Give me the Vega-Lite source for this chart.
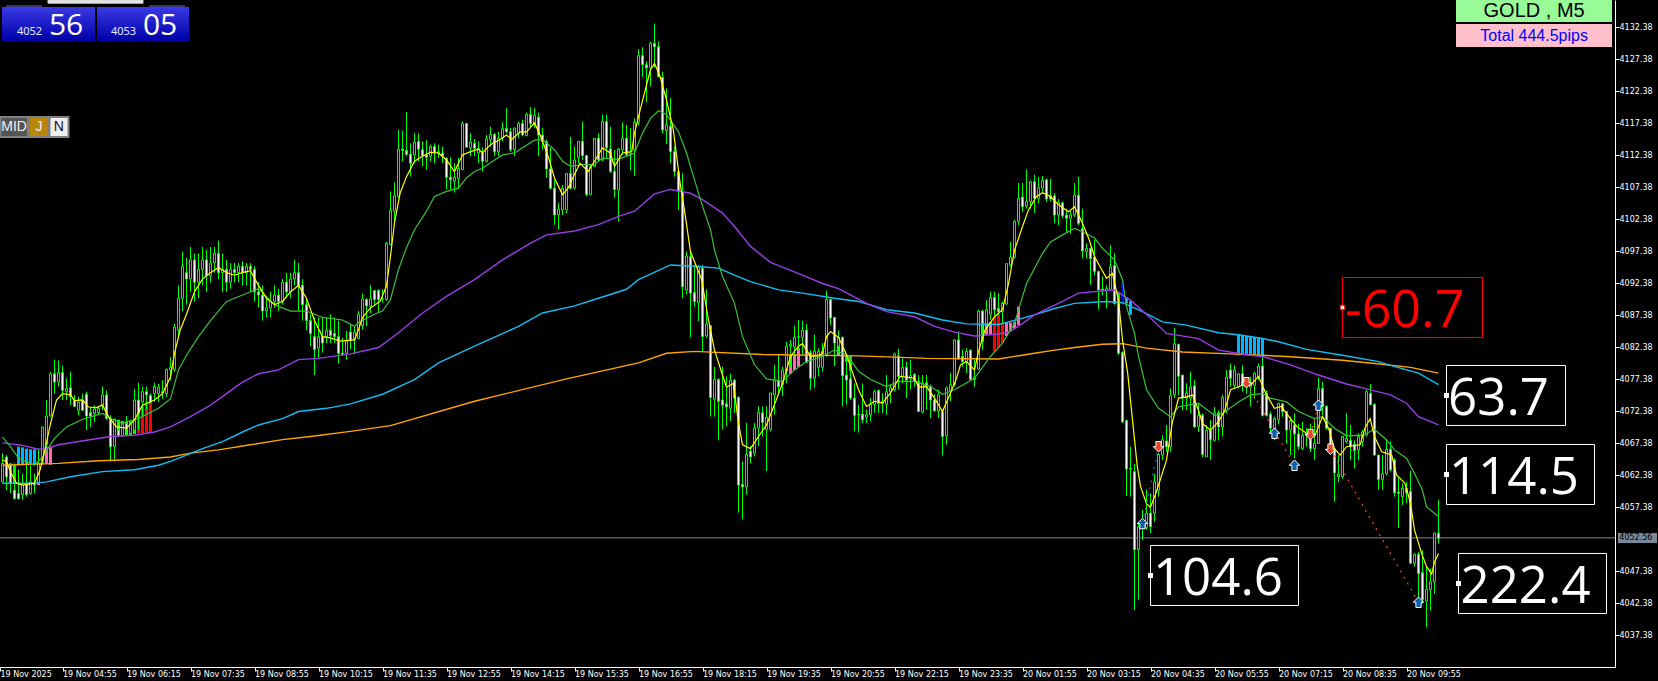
{"$schema":"https://vega.github.io/schema/vega-lite/v6.json","width":1615,"height":667,"autosize":{"type":"none"},"padding":{"left":0,"top":0,"right":43,"bottom":14},"background":"#000000","config":{"view":{"stroke":null},"axis":{"grid":false,"title":null}},"resolve":{"axis":{"x":"independent","y":"independent"}},
"datasets":{
"candles":[
{"i":0,"o":4061.3,"h":4065.8,"l":4061.1,"c":4064.2},{"i":1,"o":4065.2,"h":4065.5,"l":4060,"c":4062.1},{"i":2,"o":4063.9,"h":4064.2,"l":4059.5,"c":4061.1},{"i":3,"o":4060,"h":4064.2,"l":4058.5,"c":4058.7},{"i":4,"o":4059.5,"h":4063.2,"l":4058.5,"c":4058.7},{"i":5,"o":4059.3,"h":4062.6,"l":4058.5,"c":4061.1},{"i":6,"o":4061.1,"h":4064.5,"l":4059,"c":4059.3},{"i":7,"o":4059.5,"h":4063.9,"l":4059.3,"c":4061.3},{"i":8,"o":4061.1,"h":4062.6,"l":4059.5,"c":4060.8},{"i":9,"o":4061.1,"h":4066.5,"l":4061.1,"c":4064.2},
{"i":10,"o":4064.7,"h":4069.9,"l":4064.2,"c":4069.9},{"i":11,"o":4067.1,"h":4074.1,"l":4066.3,"c":4071.6},{"i":12,"o":4071.6,"h":4078.5,"l":4071.5,"c":4078.2},{"i":13,"o":4078.2,"h":4080.4,"l":4075.1,"c":4076.9},{"i":14,"o":4076.9,"h":4080.3,"l":4076.2,"c":4078.4},{"i":15,"o":4078.4,"h":4079.5,"l":4074.1,"c":4075.6},{"i":16,"o":4075.4,"h":4077.5,"l":4074.1,"c":4075.9},{"i":17,"o":4076,"h":4078.5,"l":4073.3,"c":4074.6},{"i":18,"o":4074,"h":4074.9,"l":4073,"c":4073.1},{"i":19,"o":4072.5,"h":4074.6,"l":4071.7,"c":4073.8},
{"i":20,"o":4074.1,"h":4075.1,"l":4072.5,"c":4072.5},{"i":21,"o":4075,"h":4075.4,"l":4069.4,"c":4071.6},{"i":22,"o":4072.1,"h":4073,"l":4069.9,"c":4071.6},{"i":23,"o":4072,"h":4073.3,"l":4070.7,"c":4072.7},{"i":24,"o":4072.1,"h":4073.1,"l":4071.9,"c":4072.8},{"i":25,"o":4073.3,"h":4076.2,"l":4072.5,"c":4074.9},{"i":26,"o":4074.9,"h":4075.6,"l":4071,"c":4071.2},{"i":27,"o":4071.2,"h":4071.7,"l":4064.5,"c":4066.8},{"i":28,"o":4066.8,"h":4071.2,"l":4064.5,"c":4071.1},{"i":29,"o":4069.4,"h":4071,"l":4068.4,"c":4068.5},
{"i":30,"o":4068.5,"h":4070.7,"l":4068.4,"c":4070.4},{"i":31,"o":4070.4,"h":4071.6,"l":4068.5,"c":4069.4},{"i":32,"o":4068.9,"h":4071,"l":4068.5,"c":4070.4},{"i":33,"o":4069.4,"h":4075.8,"l":4068.9,"c":4074.1},{"i":34,"o":4074.1,"h":4076.8,"l":4069.4,"c":4072},{"i":35,"o":4073.8,"h":4076.2,"l":4071.4,"c":4075.4},{"i":36,"o":4075.4,"h":4076.2,"l":4072.5,"c":4074.9},{"i":37,"o":4074.8,"h":4075.1,"l":4073.6,"c":4073.8},{"i":38,"o":4075.1,"h":4076.8,"l":4073.8,"c":4076.2},{"i":39,"o":4075.1,"h":4076.6,"l":4073.8,"c":4076.1},
{"i":40,"o":4075.2,"h":4077.2,"l":4074.3,"c":4075.4},{"i":41,"o":4075.1,"h":4079,"l":4074.6,"c":4078.9},{"i":42,"o":4078.8,"h":4080.8,"l":4077.2,"c":4079.2},{"i":43,"o":4078.9,"h":4086,"l":4078.5,"c":4085.5},{"i":44,"o":4085,"h":4092,"l":4084,"c":4090},{"i":45,"o":4090,"h":4097.3,"l":4088,"c":4095},{"i":46,"o":4094,"h":4096.3,"l":4089,"c":4093},{"i":47,"o":4093,"h":4098,"l":4091,"c":4096},{"i":48,"o":4096,"h":4097,"l":4089.5,"c":4092.5},{"i":49,"o":4092.5,"h":4097,"l":4090,"c":4094.5},
{"i":50,"o":4094.5,"h":4098,"l":4092,"c":4096},{"i":51,"o":4096,"h":4097.5,"l":4091,"c":4093.5},{"i":52,"o":4093.5,"h":4098,"l":4092.5,"c":4095.5},{"i":53,"o":4095.5,"h":4098,"l":4094,"c":4097},{"i":54,"o":4097,"h":4099,"l":4093,"c":4094},{"i":55,"o":4094,"h":4097,"l":4091,"c":4094.5},{"i":56,"o":4094.5,"h":4096,"l":4091,"c":4092.5},{"i":57,"o":4092.5,"h":4095.5,"l":4091.5,"c":4094.5},{"i":58,"o":4094.5,"h":4095.5,"l":4092.5,"c":4094},{"i":59,"o":4094,"h":4095.5,"l":4092.5,"c":4095},
{"i":60,"o":4095,"h":4095.8,"l":4092,"c":4094},{"i":61,"o":4094,"h":4095.5,"l":4092,"c":4095},{"i":62,"o":4095,"h":4095.5,"l":4091,"c":4094.5},{"i":63,"o":4094.5,"h":4095,"l":4089.5,"c":4091},{"i":64,"o":4091,"h":4092.5,"l":4088.5,"c":4090.5},{"i":65,"o":4090.5,"h":4092,"l":4086.5,"c":4088},{"i":66,"o":4088,"h":4090,"l":4087,"c":4088.5},{"i":67,"o":4088.5,"h":4091,"l":4087,"c":4089.5},{"i":68,"o":4089.5,"h":4092,"l":4088.5,"c":4090.5},{"i":69,"o":4090.5,"h":4091.5,"l":4088,"c":4089.5},
{"i":70,"o":4089.5,"h":4093,"l":4089,"c":4092.5},{"i":71,"o":4092.5,"h":4094,"l":4090,"c":4091},{"i":72,"o":4091,"h":4094,"l":4090,"c":4093},{"i":73,"o":4093,"h":4096,"l":4092,"c":4094},{"i":74,"o":4094,"h":4095.5,"l":4088,"c":4092},{"i":75,"o":4092,"h":4093,"l":4086.5,"c":4089},{"i":76,"o":4089,"h":4090,"l":4085,"c":4086.5},{"i":77,"o":4086.5,"h":4087.5,"l":4082.5,"c":4084.5},{"i":78,"o":4084,"h":4087,"l":4078,"c":4082},{"i":79,"o":4082.2,"h":4087,"l":4080.5,"c":4084},
{"i":80,"o":4084,"h":4087,"l":4081.5,"c":4083},{"i":81,"o":4084,"h":4087,"l":4083,"c":4085},{"i":82,"o":4085,"h":4087.5,"l":4083,"c":4084.2},{"i":83,"o":4084.5,"h":4087,"l":4083,"c":4084},{"i":84,"o":4084,"h":4086.5,"l":4079.8,"c":4081.4},{"i":85,"o":4081.4,"h":4083.8,"l":4081,"c":4081.2},{"i":86,"o":4081.4,"h":4084.9,"l":4080.4,"c":4083.3},{"i":87,"o":4084.7,"h":4086,"l":4082,"c":4083.4},{"i":88,"o":4083.5,"h":4085.6,"l":4081.2,"c":4084.7},{"i":89,"o":4083.7,"h":4088,"l":4083.6,"c":4087.5},
{"i":90,"o":4085.7,"h":4090.7,"l":4085.1,"c":4089.9},{"i":91,"o":4089.8,"h":4090,"l":4085.6,"c":4088.8},{"i":92,"o":4088.7,"h":4092,"l":4087.7,"c":4089.9},{"i":93,"o":4091.2,"h":4091.2,"l":4088.8,"c":4089.8},{"i":94,"o":4091.2,"h":4091.4,"l":4087.7,"c":4089.8},{"i":95,"o":4089.9,"h":4091.4,"l":4089.3,"c":4089.9},{"i":96,"o":4089.8,"h":4098.8,"l":4089.6,"c":4098.6},{"i":97,"o":4098.4,"h":4106.7,"l":4098.3,"c":4103.7},{"i":98,"o":4103.6,"h":4108.1,"l":4102,"c":4106},{"i":99,"o":4105.9,"h":4116.3,"l":4105.7,"c":4113.3},
{"i":100,"o":4113.3,"h":4116.2,"l":4111.4,"c":4113.1},{"i":101,"o":4113.1,"h":4119.1,"l":4112.2,"c":4112.5},{"i":102,"o":4112.5,"h":4114.2,"l":4109,"c":4111.1},{"i":103,"o":4112.4,"h":4115.8,"l":4111.1,"c":4114.4},{"i":104,"o":4114.5,"h":4115.8,"l":4111.4,"c":4113.3},{"i":105,"o":4113.2,"h":4114.5,"l":4110.6,"c":4112.3},{"i":106,"o":4112.4,"h":4114.7,"l":4110.1,"c":4112},{"i":107,"o":4112.2,"h":4114,"l":4111.4,"c":4113.7},{"i":108,"o":4113.7,"h":4114.2,"l":4111.1,"c":4112.7},{"i":109,"o":4112.7,"h":4114,"l":4111.9,"c":4112.9},
{"i":110,"o":4112.7,"h":4113.7,"l":4111.1,"c":4112.2},{"i":111,"o":4111.9,"h":4112,"l":4107,"c":4108.9},{"i":112,"o":4108.9,"h":4112,"l":4107,"c":4108.5},{"i":113,"o":4108.3,"h":4111.1,"l":4106.5,"c":4108.9},{"i":114,"o":4108.7,"h":4111.9,"l":4107.2,"c":4110.3},{"i":115,"o":4110.1,"h":4117.6,"l":4110,"c":4117.3},{"i":116,"o":4117.3,"h":4117.4,"l":4113.5,"c":4113.6},{"i":117,"o":4113.5,"h":4115.8,"l":4112.2,"c":4114.4},{"i":118,"o":4114.2,"h":4114.9,"l":4112.2,"c":4113.4},{"i":119,"o":4112.7,"h":4114.5,"l":4111.1,"c":4113.4},
{"i":120,"o":4112.9,"h":4113.6,"l":4109.8,"c":4111.4},{"i":121,"o":4111.4,"h":4115.5,"l":4111.2,"c":4114.9},{"i":122,"o":4114.8,"h":4116.8,"l":4113.7,"c":4115.6},{"i":123,"o":4115.6,"h":4115.8,"l":4112.2,"c":4112.9},{"i":124,"o":4112.9,"h":4116,"l":4112.2,"c":4115},{"i":125,"o":4115,"h":4117.5,"l":4114.5,"c":4116.5},{"i":126,"o":4116.5,"h":4119.7,"l":4115.8,"c":4116},{"i":127,"o":4116,"h":4116.6,"l":4112.9,"c":4113.2},{"i":128,"o":4113.2,"h":4116.6,"l":4112.2,"c":4116.6},{"i":129,"o":4115.8,"h":4117.6,"l":4115,"c":4117.3},
{"i":130,"o":4117.3,"h":4117.9,"l":4115.3,"c":4115.5},{"i":131,"o":4115.4,"h":4119,"l":4115.3,"c":4118.7},{"i":132,"o":4118.7,"h":4119.9,"l":4116.8,"c":4117.3},{"i":133,"o":4117.1,"h":4119.7,"l":4116.6,"c":4118.6},{"i":134,"o":4118.3,"h":4119,"l":4112.2,"c":4115.5},{"i":135,"o":4115.5,"h":4116.6,"l":4113.2,"c":4114.5},{"i":136,"o":4114.5,"h":4114.8,"l":4108.8,"c":4110.2},{"i":137,"o":4110.2,"h":4113.5,"l":4107,"c":4107.2},{"i":138,"o":4107.2,"h":4108.5,"l":4101.5,"c":4103},{"i":139,"o":4103,"h":4104.9,"l":4100.7,"c":4103.9},
{"i":140,"o":4103.8,"h":4107.7,"l":4103,"c":4107.2},{"i":141,"o":4103.8,"h":4109.5,"l":4103.3,"c":4109.5},{"i":142,"o":4109.5,"h":4115.2,"l":4107,"c":4107.2},{"i":143,"o":4107.2,"h":4113.7,"l":4107,"c":4111.6},{"i":144,"o":4112,"h":4114.5,"l":4111.1,"c":4114.5},{"i":145,"o":4114.5,"h":4117.6,"l":4111.6,"c":4112.3},{"i":146,"o":4112.3,"h":4112.4,"l":4105.9,"c":4106.2},{"i":147,"o":4106.2,"h":4110.9,"l":4106.2,"c":4110.6},{"i":148,"o":4110.6,"h":4115,"l":4110.6,"c":4115},{"i":149,"o":4115,"h":4115.8,"l":4111.4,"c":4111.6},
{"i":150,"o":4111.6,"h":4118.7,"l":4111.4,"c":4117.6},{"i":151,"o":4117.6,"h":4118.7,"l":4111.9,"c":4113.5},{"i":152,"o":4113.3,"h":4116.8,"l":4109.6,"c":4109.8},{"i":153,"o":4109.8,"h":4113.2,"l":4105.7,"c":4107},{"i":154,"o":4106.9,"h":4113.5,"l":4102,"c":4113.3},{"i":155,"o":4113.2,"h":4117.5,"l":4112.4,"c":4115},{"i":156,"o":4115,"h":4117.1,"l":4112.2,"c":4112.4},{"i":157,"o":4112.4,"h":4116.6,"l":4110,"c":4112.6},{"i":158,"o":4113.2,"h":4118.1,"l":4109.1,"c":4117.5},{"i":159,"o":4117.5,"h":4128.9,"l":4117,"c":4127.9},
{"i":160,"o":4127.9,"h":4129.2,"l":4124.6,"c":4126.5},{"i":161,"o":4126.5,"h":4127,"l":4120.6,"c":4126},{"i":162,"o":4126,"h":4130.1,"l":4123.1,"c":4129.8},{"i":163,"o":4129.8,"h":4132.9,"l":4126,"c":4129.3},{"i":164,"o":4129.3,"h":4130.1,"l":4124.6,"c":4124.6},{"i":165,"o":4124.5,"h":4125.4,"l":4115.8,"c":4116.3},{"i":166,"o":4116.2,"h":4122.8,"l":4114.1,"c":4117.1},{"i":167,"o":4116.9,"h":4121.3,"l":4111.1,"c":4112.9},{"i":168,"o":4112.9,"h":4113.7,"l":4109,"c":4109.8},{"i":169,"o":4109.8,"h":4110.1,"l":4103.8,"c":4106.7},
{"i":170,"o":4106.7,"h":4109.5,"l":4090,"c":4091.8},{"i":171,"o":4091.3,"h":4097.3,"l":4090.6,"c":4096.6},{"i":172,"o":4096.5,"h":4097.5,"l":4083.9,"c":4090.8},{"i":173,"o":4090.9,"h":4095.2,"l":4088.7,"c":4089.5},{"i":174,"o":4089.3,"h":4095.2,"l":4086.4,"c":4094.9},{"i":175,"o":4094.7,"h":4095.2,"l":4081.7,"c":4084},{"i":176,"o":4084.1,"h":4091.4,"l":4083.8,"c":4086},{"i":177,"o":4085.7,"h":4085.8,"l":4071.5,"c":4074.5},{"i":178,"o":4074.2,"h":4079.3,"l":4071.5,"c":4077.3},{"i":179,"o":4077.3,"h":4077.5,"l":4067.8,"c":4073.9},
{"i":180,"o":4074.1,"h":4079.3,"l":4069.5,"c":4073.3},{"i":181,"o":4073.5,"h":4077.8,"l":4070,"c":4073},{"i":182,"o":4072.8,"h":4078.2,"l":4070.8,"c":4077.2},{"i":183,"o":4077.2,"h":4077.4,"l":4072.1,"c":4074.4},{"i":184,"o":4074.5,"h":4074.7,"l":4056.5,"c":4060.8},{"i":185,"o":4060.9,"h":4064.5,"l":4055.4,"c":4060.5},{"i":186,"o":4060.5,"h":4070.5,"l":4059.3,"c":4065.6},{"i":187,"o":4066.1,"h":4066.9,"l":4064.2,"c":4065.2},{"i":188,"o":4065.8,"h":4070.5,"l":4065.3,"c":4069.7},{"i":189,"o":4069.7,"h":4073.1,"l":4066.9,"c":4072.2},
{"i":190,"o":4072.1,"h":4073.1,"l":4068.4,"c":4070.6},{"i":191,"o":4069.5,"h":4073.1,"l":4063,"c":4071.4},{"i":192,"o":4069.5,"h":4075.2,"l":4069.2,"c":4075.2},{"i":193,"o":4074.9,"h":4079.6,"l":4071.8,"c":4077.2},{"i":194,"o":4077.1,"h":4081.2,"l":4075.2,"c":4076.2},{"i":195,"o":4076.5,"h":4079.3,"l":4074.7,"c":4078.8},{"i":196,"o":4078.6,"h":4083.2,"l":4076.7,"c":4082.5},{"i":197,"o":4082.5,"h":4083.5,"l":4079.3,"c":4082.8},{"i":198,"o":4082.4,"h":4085.7,"l":4080.9,"c":4083.9},{"i":199,"o":4083.9,"h":4086.6,"l":4082,"c":4084},
{"i":200,"o":4083.9,"h":4086.5,"l":4081.2,"c":4085},{"i":201,"o":4085,"h":4086,"l":4080,"c":4080},{"i":202,"o":4081.5,"h":4081.9,"l":4075.7,"c":4077.5},{"i":203,"o":4077.5,"h":4084.3,"l":4076,"c":4081.7},{"i":204,"o":4079.2,"h":4082.2,"l":4077.8,"c":4081.7},{"i":205,"o":4079.2,"h":4083,"l":4078.5,"c":4081.7},{"i":206,"o":4081,"h":4091.2,"l":4080.9,"c":4089.8},{"i":207,"o":4089.8,"h":4090,"l":4085.8,"c":4086.9},{"i":208,"o":4087,"h":4087.1,"l":4079.4,"c":4083},{"i":209,"o":4082.5,"h":4085,"l":4081.4,"c":4083.9},
{"i":210,"o":4083.9,"h":4084,"l":4073.1,"c":4077.9},{"i":211,"o":4078,"h":4081,"l":4073.4,"c":4077.2},{"i":212,"o":4077.4,"h":4080.9,"l":4074.1,"c":4074.4},{"i":213,"o":4074.4,"h":4076.7,"l":4069.2,"c":4071.7},{"i":214,"o":4071.8,"h":4073.3,"l":4069,"c":4071.9},{"i":215,"o":4071.9,"h":4076.7,"l":4070.5,"c":4071},{"i":216,"o":4071.4,"h":4072.6,"l":4070.5,"c":4071.8},{"i":217,"o":4071.8,"h":4074.4,"l":4070.8,"c":4073.4},{"i":218,"o":4073.4,"h":4075.7,"l":4072.1,"c":4075.4},{"i":219,"o":4075.6,"h":4075.7,"l":4072.1,"c":4073.6},
{"i":220,"o":4073.6,"h":4075.2,"l":4072.1,"c":4073.9},{"i":221,"o":4073.4,"h":4078,"l":4071.8,"c":4075.4},{"i":222,"o":4075.4,"h":4076.5,"l":4073.6,"c":4076},{"i":223,"o":4075.7,"h":4081.5,"l":4075.4,"c":4081.3},{"i":224,"o":4081,"h":4082.1,"l":4075.7,"c":4077.8},{"i":225,"o":4077.8,"h":4080.6,"l":4076.7,"c":4079.2},{"i":226,"o":4079.2,"h":4080.1,"l":4074.4,"c":4077.2},{"i":227,"o":4077.5,"h":4080.4,"l":4075.7,"c":4077.9},{"i":228,"o":4078.1,"h":4078.3,"l":4076.2,"c":4077},{"i":229,"o":4077,"h":4078,"l":4072.3,"c":4072.3},
{"i":230,"o":4072.2,"h":4078,"l":4072,"c":4076.8},{"i":231,"o":4076.8,"h":4078,"l":4072.6,"c":4076.2},{"i":232,"o":4076.2,"h":4076.5,"l":4071.3,"c":4074.1},{"i":233,"o":4074.1,"h":4075,"l":4072.3,"c":4072.4},{"i":234,"o":4072.4,"h":4075.7,"l":4071.3,"c":4074.9},{"i":235,"o":4072.3,"h":4072.6,"l":4065.4,"c":4068.4},{"i":236,"o":4068.5,"h":4076.2,"l":4067.1,"c":4076},{"i":237,"o":4075.4,"h":4078.3,"l":4073.9,"c":4076.5},{"i":238,"o":4076.5,"h":4083.6,"l":4076.2,"c":4083.5},{"i":239,"o":4083.5,"h":4084.8,"l":4080.4,"c":4080.5},
{"i":240,"o":4080.9,"h":4082,"l":4079.3,"c":4080.1},{"i":241,"o":4080.1,"h":4082.2,"l":4078.3,"c":4081.7},{"i":242,"o":4081.9,"h":4081.9,"l":4077.2,"c":4077.3},{"i":243,"o":4077.3,"h":4080.4,"l":4076.2,"c":4077.7},{"i":244,"o":4078.9,"h":4088.2,"l":4078.8,"c":4088},{"i":245,"o":4088,"h":4088.2,"l":4081.9,"c":4086},{"i":246,"o":4086,"h":4089.7,"l":4085.6,"c":4088.2},{"i":247,"o":4087.5,"h":4091,"l":4086.6,"c":4090.1},{"i":248,"o":4090.1,"h":4091,"l":4087.1,"c":4088.2},{"i":249,"o":4088.4,"h":4090.8,"l":4087.4,"c":4087.9},
{"i":250,"o":4087.9,"h":4089.5,"l":4086.1,"c":4089.2},{"i":251,"o":4089.1,"h":4095.5,"l":4089,"c":4095.4},{"i":252,"o":4095.2,"h":4098.8,"l":4094.9,"c":4096.4},{"i":253,"o":4096.4,"h":4102.2,"l":4096.2,"c":4102},{"i":254,"o":4102,"h":4108,"l":4101.4,"c":4105.6},{"i":255,"o":4105.8,"h":4108,"l":4103.5,"c":4104.3},{"i":256,"o":4104.4,"h":4110.1,"l":4104,"c":4105.1},{"i":257,"o":4105.1,"h":4108.4,"l":4104,"c":4108.2},{"i":258,"o":4108.2,"h":4109.3,"l":4103.3,"c":4105.6},{"i":259,"o":4105.6,"h":4109,"l":4104.8,"c":4107.3},
{"i":260,"o":4107.2,"h":4109.1,"l":4106.4,"c":4108.4},{"i":261,"o":4108.5,"h":4108.7,"l":4105.1,"c":4105.5},{"i":262,"o":4106,"h":4108.7,"l":4105.1,"c":4105.5},{"i":263,"o":4106,"h":4106.4,"l":4101.7,"c":4103},{"i":264,"o":4103,"h":4105.5,"l":4101.4,"c":4105},{"i":265,"o":4104.9,"h":4105.1,"l":4102.5,"c":4102.9},{"i":266,"o":4103,"h":4104,"l":4100.2,"c":4102.5},{"i":267,"o":4102.5,"h":4103.8,"l":4100.1,"c":4103},{"i":268,"o":4103,"h":4108,"l":4102.7,"c":4106.1},{"i":269,"o":4106.1,"h":4109,"l":4101.4,"c":4101.7},
{"i":270,"o":4100.9,"h":4104,"l":4096.2,"c":4097.4},{"i":271,"o":4097.3,"h":4098.6,"l":4096.2,"c":4097.8},{"i":272,"o":4097.8,"h":4097.9,"l":4092.1,"c":4096.2},{"i":273,"o":4096.4,"h":4099.1,"l":4093.6,"c":4094.2},{"i":274,"o":4094.2,"h":4094.2,"l":4088.2,"c":4091.3},{"i":275,"o":4091.4,"h":4093.4,"l":4090.5,"c":4091.2},{"i":276,"o":4091.2,"h":4092,"l":4088.4,"c":4091.5},{"i":277,"o":4091.4,"h":4098.3,"l":4091.3,"c":4094.9},{"i":278,"o":4095.1,"h":4097,"l":4089,"c":4089.2},{"i":279,"o":4089.2,"h":4091,"l":4081.1,"c":4081.4},
{"i":280,"o":4081.5,"h":4081.7,"l":4070.5,"c":4070.7},{"i":281,"o":4070.9,"h":4071,"l":4059.1,"c":4063.3},{"i":282,"o":4063.4,"h":4066.8,"l":4059,"c":4063.3},{"i":283,"o":4062.9,"h":4064.1,"l":4041.3,"c":4050.7},{"i":284,"o":4050.7,"h":4055,"l":4042.9,"c":4054.3},{"i":285,"o":4054.5,"h":4056.9,"l":4052.2,"c":4054.8},{"i":286,"o":4054.2,"h":4060.1,"l":4053.8,"c":4056.4},{"i":287,"o":4056.4,"h":4059.5,"l":4053.3,"c":4054.3},{"i":288,"o":4056.4,"h":4062.6,"l":4055.1,"c":4061.3},{"i":289,"o":4060,"h":4065.8,"l":4059,"c":4065.6},
{"i":290,"o":4065.5,"h":4068.6,"l":4064.7,"c":4067.9},{"i":291,"o":4067.7,"h":4070.2,"l":4066,"c":4066.8},{"i":292,"o":4066.8,"h":4075.9,"l":4066,"c":4074.8},{"i":293,"o":4074.9,"h":4085.4,"l":4074.4,"c":4082.9},{"i":294,"o":4082.8,"h":4082.9,"l":4074.9,"c":4077.8},{"i":295,"o":4078,"h":4078,"l":4072.5,"c":4074.4},{"i":296,"o":4074.4,"h":4076.7,"l":4072.5,"c":4075.2},{"i":297,"o":4074.4,"h":4078.5,"l":4072,"c":4076.1},{"i":298,"o":4076.3,"h":4077.2,"l":4069.7,"c":4069.9},{"i":299,"o":4069.9,"h":4073.6,"l":4069.1,"c":4071.7},
{"i":300,"o":4071.7,"h":4072,"l":4065.2,"c":4065.6},{"i":301,"o":4065.2,"h":4070.2,"l":4065.2,"c":4069.4},{"i":302,"o":4069.4,"h":4071,"l":4064.7,"c":4067.9},{"i":303,"o":4067.8,"h":4073,"l":4067.6,"c":4072.1},{"i":304,"o":4072.1,"h":4072.5,"l":4067.8,"c":4069.9},{"i":305,"o":4069.9,"h":4074.9,"l":4068.4,"c":4074.5},{"i":306,"o":4072.5,"h":4078.8,"l":4072,"c":4077.7},{"i":307,"o":4078.8,"h":4079.8,"l":4076.2,"c":4077.5},{"i":308,"o":4076.4,"h":4079.5,"l":4075.9,"c":4078.8},{"i":309,"o":4076.2,"h":4078.3,"l":4075.9,"c":4078.2},
{"i":310,"o":4078.2,"h":4079.5,"l":4075.4,"c":4076.4},{"i":311,"o":4077.2,"h":4077.7,"l":4075.1,"c":4076.2},{"i":312,"o":4076.1,"h":4077.7,"l":4073.1,"c":4076.7},{"i":313,"o":4076.4,"h":4078.5,"l":4074.3,"c":4078.3},{"i":314,"o":4077.7,"h":4079.8,"l":4077.2,"c":4079.4},{"i":315,"o":4079.4,"h":4080.9,"l":4071.5,"c":4071.7},{"i":316,"o":4075.1,"h":4075.6,"l":4071.5,"c":4071.7},{"i":317,"o":4071.9,"h":4072.3,"l":4068.9,"c":4069.7},{"i":318,"o":4069.5,"h":4071.5,"l":4067.8,"c":4071.2},{"i":319,"o":4071,"h":4073.6,"l":4070.3,"c":4073.6},
{"i":320,"o":4073.5,"h":4073.6,"l":4071.5,"c":4072.3},{"i":321,"o":4072.3,"h":4072.3,"l":4067.3,"c":4069.4},{"i":322,"o":4069.4,"h":4071.5,"l":4065.5,"c":4070.9},{"i":323,"o":4070.2,"h":4072,"l":4065,"c":4068.8},{"i":324,"o":4068.8,"h":4070.4,"l":4066.3,"c":4066.8},{"i":325,"o":4066.5,"h":4070.7,"l":4066.3,"c":4068.6},{"i":326,"o":4068.6,"h":4069.7,"l":4066.8,"c":4069.1},{"i":327,"o":4069.1,"h":4070.4,"l":4066,"c":4066.5},{"i":328,"o":4066.5,"h":4071,"l":4064.7,"c":4067.3},{"i":329,"o":4067.3,"h":4077.6,"l":4067.3,"c":4075.9},
{"i":330,"o":4075.9,"h":4076.9,"l":4071.7,"c":4073.1},{"i":331,"o":4073.1,"h":4073.3,"l":4069.4,"c":4069.7},{"i":332,"o":4069.7,"h":4069.7,"l":4065.8,"c":4066.3},{"i":333,"o":4066.3,"h":4066.3,"l":4058.2,"c":4062.7},{"i":334,"o":4062.1,"h":4065.5,"l":4061.3,"c":4062.5},{"i":335,"o":4062.1,"h":4068.4,"l":4061.8,"c":4068.4},{"i":336,"o":4067.6,"h":4072,"l":4067.3,"c":4068.1},{"i":337,"o":4067.8,"h":4070.2,"l":4064.7,"c":4066.8},{"i":338,"o":4067.2,"h":4067.8,"l":4063.4,"c":4066.2},{"i":339,"o":4066.3,"h":4068.9,"l":4064.7,"c":4068.4},
{"i":340,"o":4067.6,"h":4069.4,"l":4066.8,"c":4069.1},{"i":341,"o":4068.6,"h":4075.7,"l":4068.4,"c":4075.4},{"i":342,"o":4075.1,"h":4076.6,"l":4073.3,"c":4073.4},{"i":343,"o":4073.4,"h":4073.6,"l":4065.4,"c":4065.5},{"i":344,"o":4065.5,"h":4065.5,"l":4060.1,"c":4061.7},{"i":345,"o":4061.7,"h":4065.5,"l":4060.1,"c":4062.6},{"i":346,"o":4062.6,"h":4067.9,"l":4062.4,"c":4066.4},{"i":347,"o":4066.4,"h":4067.6,"l":4062.9,"c":4063.2},{"i":348,"o":4064.7,"h":4065,"l":4059,"c":4059.6},{"i":349,"o":4059.7,"h":4061.9,"l":4054.1,"c":4059.5},
{"i":350,"o":4059,"h":4061.1,"l":4057.7,"c":4060.3},{"i":351,"o":4060.3,"h":4061.3,"l":4058,"c":4059.6},{"i":352,"o":4059.8,"h":4063,"l":4048.5,"c":4048.6},{"i":353,"o":4048.6,"h":4050.1,"l":4048.1,"c":4050},{"i":354,"o":4050,"h":4050.4,"l":4042.3,"c":4047},{"i":355,"o":4047.1,"h":4050.6,"l":4042.3,"c":4042.9},{"i":356,"o":4042.7,"h":4048,"l":4038.6,"c":4044.5},{"i":357,"o":4044.5,"h":4047.8,"l":4041.2,"c":4045.7},{"i":358,"o":4045.7,"h":4053.4,"l":4043.8,"c":4053.3},{"i":359,"o":4053.3,"h":4058.5,"l":4051.7,"c":4052.5}],
"orange":[{"i":0,"p":4063.9},{"i":14,"p":4064.2},{"i":24,"p":4064.6},{"i":34,"p":4064.8},{"i":42,"p":4065.2},{"i":47,"p":4065.8},{"i":54,"p":4066.3},{"i":62,"p":4067.1},{"i":70,"p":4067.9},{"i":77,"p":4068.4},{"i":87,"p":4069.2},{"i":97,"p":4070.1},{"i":118,"p":4073.9},{"i":141,"p":4077.4},{"i":159,"p":4079.9},{"i":166,"p":4081.4},{"i":173,"p":4081.7},{"i":190,"p":4081.2},{"i":214,"p":4081},{"i":223,"p":4080.8},{"i":231,"p":4080.6},{"i":249,"p":4080.5},{"i":258,"p":4081.4},{"i":263,"p":4081.9},{"i":268,"p":4082.3},{"i":275,"p":4082.8},{"i":280,"p":4082.9},{"i":286,"p":4082.2},{"i":295,"p":4081.6},{"i":307,"p":4081.3},{"i":321,"p":4080.9},{"i":335,"p":4080.3},{"i":343,"p":4079.8},{"i":352,"p":4079.2},{"i":359,"p":4078.3}],
"cyan":[{"i":0,"p":4061.1},{"i":8,"p":4061.1},{"i":11,"p":4061.3},{"i":17,"p":4062.1},{"i":25,"p":4062.9},{"i":33,"p":4063.2},{"i":39,"p":4063.9},{"i":42,"p":4064.5},{"i":46,"p":4065.5},{"i":50,"p":4066.5},{"i":55,"p":4067.6},{"i":60,"p":4069.1},{"i":64,"p":4070.2},{"i":70,"p":4071.2},{"i":74,"p":4072.3},{"i":81,"p":4072.8},{"i":87,"p":4073.5},{"i":95,"p":4075},{"i":103,"p":4077.3},{"i":109,"p":4079.9},{"i":118,"p":4082.5},{"i":129,"p":4085.6},{"i":135,"p":4087.7},{"i":143,"p":4088.8},{"i":149,"p":4090},{"i":156,"p":4091.4},{"i":159,"p":4092.9},{"i":167,"p":4095.2},{"i":173,"p":4095},{"i":179,"p":4094.7},{"i":183,"p":4093.6},{"i":187,"p":4092.6},{"i":194,"p":4091.3},{"i":200,"p":4090.8},{"i":208,"p":4090},{"i":214,"p":4089.5},{"i":221,"p":4088.2},{"i":228,"p":4087.7},{"i":235,"p":4086.6},{"i":241,"p":4086},{"i":249,"p":4085.9},{"i":254,"p":4086.7},{"i":259,"p":4087.6},{"i":263,"p":4088.4},{"i":268,"p":4089.2},{"i":276,"p":4089.5},{"i":280,"p":4089.3},{"i":285,"p":4087.9},{"i":290,"p":4086.3},{"i":296,"p":4085.8},{"i":304,"p":4084.6},{"i":309,"p":4084.3},{"i":315,"p":4083.7},{"i":319,"p":4083.2},{"i":326,"p":4082},{"i":335,"p":4081.1},{"i":344,"p":4080.1},{"i":347,"p":4079.5},{"i":354,"p":4078.3},{"i":359,"p":4076.5}],
"purple":[{"i":0,"p":4067.4},{"i":5,"p":4067},{"i":9,"p":4066.4},{"i":11,"p":4066.5},{"i":14,"p":4067.1},{"i":21,"p":4067.8},{"i":27,"p":4068.4},{"i":33,"p":4068.6},{"i":38,"p":4069.1},{"i":42,"p":4069.9},{"i":47,"p":4071.5},{"i":52,"p":4073.3},{"i":56,"p":4075.1},{"i":60,"p":4076.9},{"i":64,"p":4078.2},{"i":69,"p":4078.8},{"i":74,"p":4080.4},{"i":79,"p":4080.6},{"i":87,"p":4081.3},{"i":94,"p":4082.3},{"i":99,"p":4084.6},{"i":105,"p":4087.7},{"i":111,"p":4090.3},{"i":118,"p":4092.9},{"i":125,"p":4096},{"i":132,"p":4098.6},{"i":136,"p":4099.9},{"i":143,"p":4100.5},{"i":149,"p":4101.5},{"i":154,"p":4102.8},{"i":158,"p":4103.6},{"i":163,"p":4106.3},{"i":167,"p":4107},{"i":172,"p":4106.4},{"i":175,"p":4105.4},{"i":180,"p":4103.3},{"i":183,"p":4101.2},{"i":187,"p":4098.1},{"i":192,"p":4095.6},{"i":200,"p":4093.6},{"i":205,"p":4092.3},{"i":209,"p":4091.5},{"i":216,"p":4089.2},{"i":221,"p":4087.9},{"i":228,"p":4087.1},{"i":233,"p":4085.6},{"i":238,"p":4084.7},{"i":243,"p":4084.1},{"i":247,"p":4084.3},{"i":251,"p":4084.6},{"i":254,"p":4085.6},{"i":258,"p":4087.4},{"i":265,"p":4089.5},{"i":269,"p":4090.8},{"i":276,"p":4091.2},{"i":278,"p":4091.3},{"i":282,"p":4089.7},{"i":287,"p":4086.9},{"i":291,"p":4084.5},{"i":299,"p":4083.7},{"i":304,"p":4081.9},{"i":312,"p":4081.1},{"i":315,"p":4080.9},{"i":322,"p":4079.6},{"i":329,"p":4078},{"i":336,"p":4076.6},{"i":340,"p":4076},{"i":347,"p":4074.9},{"i":351,"p":4073.6},{"i":354,"p":4071.5},{"i":359,"p":4070.2}],
"green":[{"i":0,"p":4068.3},{"i":2,"p":4066.8},{"i":4,"p":4065},{"i":8,"p":4063.9},{"i":10,"p":4065.2},{"i":13,"p":4068.1},{"i":16,"p":4069.9},{"i":20,"p":4071.1},{"i":25,"p":4072},{"i":27,"p":4071.2},{"i":30,"p":4070.5},{"i":34,"p":4071.2},{"i":39,"p":4072.8},{"i":42,"p":4074.3},{"i":44,"p":4078.8},{"i":46,"p":4081.1},{"i":49,"p":4084},{"i":52,"p":4086.5},{"i":56,"p":4089.5},{"i":60,"p":4090.5},{"i":64,"p":4091.5},{"i":68,"p":4089},{"i":72,"p":4088},{"i":76,"p":4088},{"i":80,"p":4087},{"i":85,"p":4086.6},{"i":88,"p":4085.6},{"i":89,"p":4086.2},{"i":93,"p":4087.5},{"i":95,"p":4088},{"i":97,"p":4089.8},{"i":99,"p":4094.5},{"i":101,"p":4097.9},{"i":103,"p":4100.7},{"i":106,"p":4103.6},{"i":108,"p":4105.9},{"i":111,"p":4106.7},{"i":114,"p":4107.2},{"i":116,"p":4108.8},{"i":118,"p":4109.8},{"i":120,"p":4110.3},{"i":123,"p":4111.6},{"i":125,"p":4112.4},{"i":128,"p":4112.7},{"i":130,"p":4113.5},{"i":133,"p":4114.7},{"i":135,"p":4114.8},{"i":138,"p":4113.2},{"i":140,"p":4111.4},{"i":142,"p":4110.6},{"i":145,"p":4110.9},{"i":148,"p":4110.9},{"i":150,"p":4111.9},{"i":154,"p":4111.7},{"i":158,"p":4112.7},{"i":160,"p":4115.8},{"i":162,"p":4118.1},{"i":164,"p":4119.3},{"i":166,"p":4118.7},{"i":169,"p":4116},{"i":171,"p":4112.7},{"i":173,"p":4108.5},{"i":175,"p":4104.4},{"i":177,"p":4100.7},{"i":178,"p":4097.5},{"i":180,"p":4093.4},{"i":183,"p":4089.2},{"i":185,"p":4084},{"i":188,"p":4079.6},{"i":191,"p":4077.4},{"i":195,"p":4077},{"i":198,"p":4078.8},{"i":201,"p":4080.1},{"i":205,"p":4080.9},{"i":208,"p":4081.9},{"i":211,"p":4081.2},{"i":214,"p":4078.6},{"i":217,"p":4077.3},{"i":221,"p":4076.2},{"i":224,"p":4077},{"i":228,"p":4077},{"i":232,"p":4076.2},{"i":235,"p":4075},{"i":238,"p":4075.7},{"i":243,"p":4077.5},{"i":247,"p":4080.9},{"i":250,"p":4083},{"i":253,"p":4086.1},{"i":256,"p":4092.3},{"i":260,"p":4097},{"i":262,"p":4098.8},{"i":265,"p":4099.9},{"i":268,"p":4100.9},{"i":270,"p":4100.4},{"i":273,"p":4099.4},{"i":275,"p":4097.8},{"i":278,"p":4096},{"i":280,"p":4092.9},{"i":281,"p":4088.7},{"i":283,"p":4084.5},{"i":284,"p":4080.9},{"i":286,"p":4075.7},{"i":289,"p":4072.8},{"i":292,"p":4071.5},{"i":294,"p":4073},{"i":299,"p":4073.6},{"i":303,"p":4071.7},{"i":305,"p":4072},{"i":309,"p":4073.8},{"i":312,"p":4074.9},{"i":315,"p":4075.1},{"i":317,"p":4074.4},{"i":321,"p":4073.8},{"i":324,"p":4072.3},{"i":328,"p":4071.2},{"i":330,"p":4071.5},{"i":333,"p":4069.7},{"i":336,"p":4068.5},{"i":340,"p":4068.6},{"i":343,"p":4069.5},{"i":346,"p":4067.9},{"i":348,"p":4066.3},{"i":351,"p":4065},{"i":353,"p":4062.6},{"i":355,"p":4060},{"i":356,"p":4057.4},{"i":358,"p":4056.4},{"i":359,"p":4055.9}],
"yellow":[{"i":0,"p":4064.7},{"i":1,"p":4064.5},{"i":2,"p":4062.9},{"i":3.5,"p":4061.1},{"i":5,"p":4060.8},{"i":8,"p":4061.1},{"i":9.4,"p":4063.2},{"i":10.6,"p":4066.3},{"i":12,"p":4070.4},{"i":13.5,"p":4074.1},{"i":15,"p":4075.1},{"i":17,"p":4074.9},{"i":18,"p":4074},{"i":20,"p":4074.1},{"i":21.5,"p":4073},{"i":23.5,"p":4072.9},{"i":25,"p":4073.3},{"i":26.5,"p":4071.5},{"i":28.5,"p":4069.9},{"i":31,"p":4069.7},{"i":33,"p":4071},{"i":35,"p":4073.3},{"i":38,"p":4074.1},{"i":40,"p":4075.1},{"i":42,"p":4077.7},{"i":43,"p":4081.4},{"i":44.4,"p":4085},{"i":46,"p":4087.5},{"i":48,"p":4091},{"i":50,"p":4093},{"i":52,"p":4094},{"i":54,"p":4094.8},{"i":56,"p":4094},{"i":58,"p":4093.6},{"i":60,"p":4094},{"i":62,"p":4094.3},{"i":64,"p":4092},{"i":66,"p":4090},{"i":68,"p":4089},{"i":70,"p":4089.5},{"i":72,"p":4091},{"i":74,"p":4092},{"i":76,"p":4090},{"i":78,"p":4086.5},{"i":80,"p":4084},{"i":82,"p":4083.8},{"i":84.4,"p":4083.3},{"i":88,"p":4083.5},{"i":89,"p":4085.1},{"i":90,"p":4087},{"i":92,"p":4088.5},{"i":94.4,"p":4089.5},{"i":96,"p":4091.9},{"i":97,"p":4096.6},{"i":98,"p":4101.8},{"i":99.4,"p":4106.4},{"i":101,"p":4109},{"i":103,"p":4111.4},{"i":105,"p":4112.2},{"i":107,"p":4112.8},{"i":109,"p":4112.7},{"i":111,"p":4111.6},{"i":113,"p":4109.8},{"i":115,"p":4112.4},{"i":117,"p":4112.9},{"i":119,"p":4113.3},{"i":120,"p":4112.7},{"i":122,"p":4114},{"i":124.4,"p":4114.8},{"i":126,"p":4115.5},{"i":127.3,"p":4114.8},{"i":129.4,"p":4116},{"i":131,"p":4116},{"i":133,"p":4117.4},{"i":134.4,"p":4115.5},{"i":136.4,"p":4112.2},{"i":138,"p":4108.8},{"i":140,"p":4106.2},{"i":141.4,"p":4107.2},{"i":142.7,"p":4109},{"i":144.4,"p":4111.1},{"i":146.4,"p":4109.8},{"i":148,"p":4111.4},{"i":150,"p":4113.5},{"i":151.9,"p":4112.7},{"i":153,"p":4110.6},{"i":155,"p":4112.7},{"i":157.3,"p":4112.9},{"i":158,"p":4115.8},{"i":159.4,"p":4119.4},{"i":161,"p":4123.3},{"i":162,"p":4125.7},{"i":163,"p":4126.7},{"i":164.4,"p":4124.6},{"i":166,"p":4121},{"i":167.7,"p":4116.3},{"i":169.4,"p":4108},{"i":170.6,"p":4103.3},{"i":172,"p":4097.3},{"i":174.8,"p":4092.9},{"i":176.5,"p":4086.6},{"i":178,"p":4081.9},{"i":180,"p":4078},{"i":181,"p":4076.1},{"i":182.7,"p":4076.7},{"i":184,"p":4070.5},{"i":185,"p":4067.1},{"i":187,"p":4066.5},{"i":189,"p":4068.4},{"i":191,"p":4070.2},{"i":193,"p":4073.4},{"i":195,"p":4076.7},{"i":197,"p":4080.9},{"i":199,"p":4082.5},{"i":200,"p":4082.9},{"i":202,"p":4080.9},{"i":204,"p":4081},{"i":205,"p":4081.4},{"i":206,"p":4084},{"i":207,"p":4084.8},{"i":209,"p":4083.9},{"i":211,"p":4081.2},{"i":212.3,"p":4078.8},{"i":214,"p":4075.7},{"i":216,"p":4073.1},{"i":218,"p":4073.9},{"i":220,"p":4073.6},{"i":222,"p":4075.2},{"i":224.4,"p":4077.8},{"i":228,"p":4077.5},{"i":229,"p":4076.1},{"i":231,"p":4076.2},{"i":233,"p":4074.4},{"i":235,"p":4072.3},{"i":237,"p":4075.2},{"i":238.5,"p":4077.5},{"i":239.5,"p":4079.6},{"i":241,"p":4080.1},{"i":243,"p":4078.8},{"i":244,"p":4081.7},{"i":245.6,"p":4085},{"i":248,"p":4087.1},{"i":250,"p":4088.2},{"i":251.5,"p":4092.3},{"i":253,"p":4097.5},{"i":255,"p":4101.2},{"i":256.5,"p":4103.8},{"i":258.5,"p":4105.9},{"i":260,"p":4106.5},{"i":262,"p":4105.9},{"i":264,"p":4104.6},{"i":266.5,"p":4103.5},{"i":268,"p":4104.3},{"i":270,"p":4101.7},{"i":271.7,"p":4099.1},{"i":273,"p":4096.5},{"i":276,"p":4093.1},{"i":277.5,"p":4093.9},{"i":279,"p":4089.7},{"i":280,"p":4083.5},{"i":281.3,"p":4078.3},{"i":282.5,"p":4071},{"i":283.7,"p":4063.7},{"i":284.5,"p":4060.6},{"i":286,"p":4057.9},{"i":287,"p":4057.3},{"i":288.6,"p":4060},{"i":291,"p":4064.7},{"i":292.4,"p":4070.4},{"i":294,"p":4074.4},{"i":296,"p":4074.6},{"i":297.5,"p":4074.9},{"i":299,"p":4072.5},{"i":300,"p":4070.4},{"i":302,"p":4069.4},{"i":304,"p":4070.7},{"i":305.6,"p":4072.5},{"i":307,"p":4075.7},{"i":310,"p":4076.4},{"i":312,"p":4076.4},{"i":314,"p":4077.8},{"i":316,"p":4074.9},{"i":318,"p":4072.8},{"i":319.7,"p":4073.1},{"i":321.6,"p":4071.5},{"i":323.7,"p":4069.9},{"i":326,"p":4068.9},{"i":328,"p":4068.4},{"i":330,"p":4071.5},{"i":331.5,"p":4069.7},{"i":333,"p":4066.5},{"i":334.4,"p":4065.5},{"i":336,"p":4066.8},{"i":339.4,"p":4067.1},{"i":340.6,"p":4069.7},{"i":341.9,"p":4071.2},{"i":343,"p":4068.4},{"i":344.8,"p":4066},{"i":347.3,"p":4065.5},{"i":348.5,"p":4062.4},{"i":350.6,"p":4061.1},{"i":352,"p":4058},{"i":353,"p":4053.8},{"i":354.8,"p":4050.1},{"i":356,"p":4048.1},{"i":357.3,"p":4046.9},{"i":358,"p":4048.8},{"i":359,"p":4050.1}],
"hist":[{"i":2,"kind":"gray","a":4064.2,"b":4061.1},{"i":3,"kind":"blue","a":4063.9,"b":4061.1},{"i":4,"kind":"blue","a":4066.8,"b":4064},{"i":5,"kind":"blue","a":4066.7,"b":4064},{"i":6,"kind":"blue","a":4066.5,"b":4064},{"i":7,"kind":"blue","a":4066.4,"b":4064},{"i":8,"kind":"blue","a":4066.4,"b":4064},{"i":9,"kind":"pink","a":4064.2,"b":4060.8},{"i":10,"kind":"red","a":4066.3,"b":4064},{"i":11,"kind":"pink","a":4066.8,"b":4064.2},{"i":12,"kind":"pink","a":4066.8,"b":4064},{"i":27,"kind":"blue","a":4071.1,"b":4068.5},{"i":28,"kind":"blue","a":4071.1,"b":4068.5},{"i":29,"kind":"gray","a":4071,"b":4068.5},{"i":30,"kind":"gray","a":4070.8,"b":4068.5},{"i":31,"kind":"gray","a":4070.7,"b":4068.6},{"i":32,"kind":"gray","a":4070.7,"b":4068.6},{"i":33,"kind":"pink","a":4070.7,"b":4068.8},{"i":34,"kind":"red","a":4072.3,"b":4068.9},{"i":35,"kind":"red","a":4073.1,"b":4068.9},{"i":36,"kind":"red","a":4073.8,"b":4069},{"i":37,"kind":"red","a":4073.8,"b":4069.1},{"i":197,"kind":"pink","a":4081.2,"b":4078.2},{"i":198,"kind":"pink","a":4081.2,"b":4078.8},{"i":199,"kind":"pink","a":4082.2,"b":4079.3},{"i":201,"kind":"gray","a":4082.2,"b":4080},{"i":202,"kind":"blue","a":4081,"b":4079.6},{"i":203,"kind":"pink","a":4081.2,"b":4079.9},{"i":204,"kind":"blue","a":4081,"b":4079.9},{"i":205,"kind":"pink","a":4081.2,"b":4079.9},{"i":206,"kind":"pink","a":4083.9,"b":4081},{"i":209,"kind":"gray","a":4083.9,"b":4081},{"i":210,"kind":"blue","a":4081,"b":4080.4},{"i":211,"kind":"blue","a":4081,"b":4080.1},{"i":212,"kind":"blue","a":4081,"b":4078.6},{"i":245,"kind":"gray","a":4087.6,"b":4083.2},{"i":246,"kind":"pink","a":4087.9,"b":4084.3},{"i":247,"kind":"pink","a":4086.3,"b":4084.3},{"i":248,"kind":"red","a":4087.1,"b":4081.7},{"i":249,"kind":"red","a":4087.4,"b":4082.3},{"i":250,"kind":"red","a":4086.1,"b":4083},{"i":251,"kind":"pink","a":4086.2,"b":4084.1},{"i":252,"kind":"pink","a":4086.2,"b":4084.8},{"i":253,"kind":"pink","a":4086.3,"b":4085.3},{"i":254,"kind":"pink","a":4088.7,"b":4085.8},{"i":278,"kind":"blue","a":4091.5,"b":4089.2},{"i":279,"kind":"blue","a":4091,"b":4089.2},{"i":280,"kind":"navy","a":4092.6,"b":4089.2},{"i":281,"kind":"blue","a":4090.1,"b":4089.2},{"i":282,"kind":"blue","a":4089.6,"b":4087.4},{"i":309,"kind":"blue","a":4084.3,"b":4081.1},{"i":310,"kind":"blue","a":4084.2,"b":4081.1},{"i":311,"kind":"blue","a":4084.1,"b":4081.1},{"i":312,"kind":"blue","a":4084,"b":4081.1},{"i":313,"kind":"blue","a":4083.9,"b":4081.1},{"i":314,"kind":"blue","a":4083.8,"b":4081.1},{"i":315,"kind":"blue","a":4083.7,"b":4081.1}],
"arrows":[{"i":285,"p":4054.8,"dir":"up"},{"i":289,"p":4066.8,"dir":"down"},{"i":311,"p":4076.8,"dir":"down"},{"i":318,"p":4068.9,"dir":"up"},{"i":323,"p":4063.9,"dir":"up"},{"i":327,"p":4068.7,"dir":"down"},{"i":329,"p":4073.3,"dir":"up"},{"i":332,"p":4066.4,"dir":"down"},{"i":354,"p":4042.5,"dir":"up"}],
"trend":[{"i":285,"p":4054.8,"leg":"a","side":"buy"},{"i":289,"p":4066.8,"leg":"a","side":"buy"},{"i":311,"p":4076.8,"leg":"b","side":"sell"},{"i":323,"p":4063.9,"leg":"b","side":"sell"},{"i":327,"p":4068.7,"leg":"c","side":"sell"},{"i":329,"p":4073.3,"leg":"c","side":"sell"},{"i":332,"p":4066.4,"leg":"d","side":"sell"},{"i":354,"p":4042.5,"leg":"d","side":"sell"}],
"boxes":[{"x1":361,"x2":390.75,"y1":4079.49,"y2":4070.12,"t":"63.7","tx":361.4,"ty":4071.76,"sy":4074.8},{"x1":361,"x2":398,"y1":4067.15,"y2":4057.77,"t":"114.5","tx":361.6,"ty":4059.37,"sy":4062.46},{"x1":287,"x2":324,"y1":4051.37,"y2":4041.99,"t":"104.6","tx":287.6,"ty":4043.63,"sy":4046.68},{"x1":364,"x2":401,"y1":4050.12,"y2":4040.74,"t":"222.4","tx":364.5,"ty":4042.43,"sy":4045.43}],
"redbox":[{"x1":335,"x2":370,"y1":4093.24,"y2":4083.87,"t":"-60.7","tx":335.6,"ty":4085.55,"sy":4088.55}],
"panels":[{"x1":-0.125,"x2":23.125,"y1":4135.51,"y2":4130.19},{"x1":23.625,"x2":46.625,"y1":4135.51,"y2":4130.19}]
},
"encoding":{"x":{"field":"i","type":"quantitative","scale":{"domain":[-0.625,403.125],"nice":false,"zero":false,"padding":0},"axis":null}},
"layer":[
{"data":{"name":"hist"},"mark":{"type":"bar","width":3},"encoding":{"x":{"field":"i","type":"quantitative","scale":{"domain":[-0.625,403.125],"nice":false,"zero":false,"padding":0},"axis":{"orient":"bottom","values":[-0.625,15,31,47,63,79,95,111,127,143,159,175,191,207,223,239,255,271,287,303,319,335,351],"labelExpr":"['19 Nov 2025','19 Nov 04:55','19 Nov 06:15','19 Nov 07:35','19 Nov 08:55','19 Nov 10:15','19 Nov 11:35','19 Nov 12:55','19 Nov 14:15','19 Nov 15:35','19 Nov 16:55','19 Nov 18:15','19 Nov 19:35','19 Nov 20:55','19 Nov 22:15','19 Nov 23:35','20 Nov 01:55','20 Nov 03:15','20 Nov 04:35','20 Nov 05:55','20 Nov 07:15','20 Nov 08:35','20 Nov 09:55'][round((datum.value+1)/16)]","labelAlign":"left","labelBaseline":"top","labelAngle":0,"labelPadding":-1,"labelOverlap":false,"labelFlush":false,"labelBound":false,"labelFont":"DejaVu Sans","labelFontSize":8,"labelColor":"#ffffff","tickColor":"#ffffff","tickSize":4,"domainColor":"#ffffff"}},"y":{"field":"a","type":"quantitative","scale":{"domain":[4032.38,4136.6],"nice":false,"zero":false},"axis":{"orient":"right","values":[4037.38,4042.38,4047.38,4057.38,4062.38,4067.38,4072.38,4077.38,4082.38,4087.38,4092.38,4097.38,4102.38,4107.38,4112.38,4117.38,4122.38,4127.38,4132.38],"format":".2f","labelFont":"DejaVu Sans","labelFontSize":8,"labelColor":"#ffffff","tickColor":"#ffffff","tickSize":4,"labelPadding":0,"domainColor":"#ffffff"}},"y2":{"field":"b"},"color":{"field":"kind","type":"nominal","legend":null,"scale":{"domain":["blue","gray","pink","red","navy"],"range":["#00b4ff","#a9a9a9","#ff69b4","#ff0000","#0000ff"]}}}},
{"data":{"values":[{"x1":-0.625,"x2":403.125,"p":4052.56}]},"mark":{"type":"rule","color":"#778899","strokeWidth":1},"encoding":{"x":{"field":"x1","type":"quantitative","scale":{"domain":[-0.625,403.125],"nice":false,"zero":false},"axis":null},"x2":{"field":"x2"},"y":{"field":"p","type":"quantitative","scale":{"domain":[4032.38,4136.6],"nice":false,"zero":false},"axis":null}}},
{"data":{"name":"candles"},"mark":{"type":"rule","color":"#00ff00","strokeWidth":1},"encoding":{"y":{"field":"l","type":"quantitative","scale":{"domain":[4032.38,4136.6],"nice":false,"zero":false},"axis":null},"y2":{"field":"h"}}},
{"data":{"name":"candles"},"mark":{"type":"bar","width":2,"stroke":"#00ff00","strokeWidth":1},"encoding":{"y":{"field":"o","type":"quantitative","scale":{"domain":[4032.38,4136.6],"nice":false,"zero":false},"axis":null},"y2":{"field":"c"},"fill":{"condition":{"test":"datum.c<datum.o","value":"#ffffff"},"value":"#000000"}}},
{"data":{"name":"orange"},"mark":{"type":"line","color":"#ffa500","strokeWidth":1.4},"encoding":{"y":{"field":"p","type":"quantitative","scale":{"domain":[4032.38,4136.6],"nice":false,"zero":false},"axis":null}}},
{"data":{"name":"cyan"},"mark":{"type":"line","color":"#12bdf2","strokeWidth":1.4},"encoding":{"y":{"field":"p","type":"quantitative","scale":{"domain":[4032.38,4136.6],"nice":false,"zero":false},"axis":null}}},
{"data":{"name":"purple"},"mark":{"type":"line","color":"#9a3be8","strokeWidth":1.4},"encoding":{"y":{"field":"p","type":"quantitative","scale":{"domain":[4032.38,4136.6],"nice":false,"zero":false},"axis":null}}},
{"data":{"name":"green"},"mark":{"type":"line","color":"#38c038","strokeWidth":1.2},"encoding":{"y":{"field":"p","type":"quantitative","scale":{"domain":[4032.38,4136.6],"nice":false,"zero":false},"axis":null}}},
{"data":{"name":"yellow"},"mark":{"type":"line","color":"#ffff00","strokeWidth":1.2},"encoding":{"y":{"field":"p","type":"quantitative","scale":{"domain":[4032.38,4136.6],"nice":false,"zero":false},"axis":null}}},
{"data":{"name":"trend"},"transform":[{"filter":"datum.side=='buy'"}],"mark":{"type":"line","strokeWidth":1.2,"strokeDash":[2,5],"color":"#1668c4"},"encoding":{"y":{"field":"p","type":"quantitative","scale":{"domain":[4032.38,4136.6],"nice":false,"zero":false},"axis":null},"detail":{"field":"leg"}}},
{"data":{"name":"trend"},"transform":[{"filter":"datum.side=='sell'"}],"mark":{"type":"line","strokeWidth":1.2,"strokeDash":[2,5],"color":"#f04a28"},"encoding":{"y":{"field":"p","type":"quantitative","scale":{"domain":[4032.38,4136.6],"nice":false,"zero":false},"axis":null},"detail":{"field":"leg"}}},
{"data":{"name":"arrows"},"transform":[{"filter":"datum.dir=='up'"}],"mark":{"type":"point","filled":true,"shape":"M0,-1L1,0L0.5,0L0.5,1L-0.5,1L-0.5,0L-1,0Z","size":110,"fill":"#0d5ea8","stroke":"#ffffff","strokeWidth":1,"opacity":1},"encoding":{"y":{"field":"p","type":"quantitative","scale":{"domain":[4032.38,4136.6],"nice":false,"zero":false},"axis":null}}},
{"data":{"name":"arrows"},"transform":[{"filter":"datum.dir=='down'"}],"mark":{"type":"point","filled":true,"shape":"M0,1L1,0L0.5,0L0.5,-1L-0.5,-1L-0.5,0L-1,0Z","size":110,"fill":"#e2462a","stroke":"#ffffff","strokeWidth":1,"opacity":1},"encoding":{"y":{"field":"p","type":"quantitative","scale":{"domain":[4032.38,4136.6],"nice":false,"zero":false},"axis":null}}},
{"data":{"name":"boxes"},"mark":{"type":"rect","fill":"#000000","stroke":"#ffffff","strokeWidth":1},"encoding":{"x":{"field":"x1","type":"quantitative","scale":{"domain":[-0.625,403.125],"nice":false,"zero":false},"axis":null},"x2":{"field":"x2"},"y":{"field":"y1","type":"quantitative","scale":{"domain":[4032.38,4136.6],"nice":false,"zero":false},"axis":null},"y2":{"field":"y2"}}},
{"data":{"name":"boxes"},"mark":{"type":"text","font":"Open Sans","fontSize":51,"align":"left","baseline":"alphabetic","color":"#ffffff"},"encoding":{"x":{"field":"tx","type":"quantitative","scale":{"domain":[-0.625,403.125],"nice":false,"zero":false},"axis":null},"y":{"field":"ty","type":"quantitative","scale":{"domain":[4032.38,4136.6],"nice":false,"zero":false},"axis":null},"text":{"field":"t"}}},
{"data":{"name":"boxes"},"mark":{"type":"point","shape":"square","filled":true,"size":25,"color":"#ffffff","opacity":1},"encoding":{"x":{"field":"x1","type":"quantitative","scale":{"domain":[-0.625,403.125],"nice":false,"zero":false},"axis":null},"y":{"field":"sy","type":"quantitative","scale":{"domain":[4032.38,4136.6],"nice":false,"zero":false},"axis":null}}},
{"data":{"name":"redbox"},"mark":{"type":"rect","fill":"#000000","stroke":"#ff0000","strokeWidth":1},"encoding":{"x":{"field":"x1","type":"quantitative","scale":{"domain":[-0.625,403.125],"nice":false,"zero":false},"axis":null},"x2":{"field":"x2"},"y":{"field":"y1","type":"quantitative","scale":{"domain":[4032.38,4136.6],"nice":false,"zero":false},"axis":null},"y2":{"field":"y2"}}},
{"data":{"name":"redbox"},"mark":{"type":"text","font":"Open Sans","fontSize":52,"align":"left","baseline":"alphabetic","color":"#ff0000"},"encoding":{"x":{"field":"tx","type":"quantitative","scale":{"domain":[-0.625,403.125],"nice":false,"zero":false},"axis":null},"y":{"field":"ty","type":"quantitative","scale":{"domain":[4032.38,4136.6],"nice":false,"zero":false},"axis":null},"text":{"field":"t"}}},
{"data":{"name":"redbox"},"mark":{"type":"point","shape":"square","filled":true,"size":20,"fill":"#ffffff","stroke":"#ff0000","strokeWidth":1,"opacity":1},"encoding":{"x":{"field":"x1","type":"quantitative","scale":{"domain":[-0.625,403.125],"nice":false,"zero":false},"axis":null},"y":{"field":"sy","type":"quantitative","scale":{"domain":[4032.38,4136.6],"nice":false,"zero":false},"axis":null}}},
{"data":{"name":"panels"},"mark":{"type":"rect","color":{"x1":0,"y1":0,"x2":0,"y2":1,"gradient":"linear","stops":[{"offset":0,"color":"#3a3ae6"},{"offset":1,"color":"#0000a8"}]}},"encoding":{"x":{"field":"x1","type":"quantitative","scale":{"domain":[-0.625,403.125],"nice":false,"zero":false},"axis":null},"x2":{"field":"x2"},"y":{"field":"y1","type":"quantitative","scale":{"domain":[4032.38,4136.6],"nice":false,"zero":false},"axis":null},"y2":{"field":"y2"}}},
{"data":{"values":[{"x1":11.375,"x2":35.125,"y1":4136.6,"y2":4136.1}]},"mark":{"type":"rect","color":"#e8e8e8","stroke":"#d0d0d0","strokeWidth":1},"encoding":{"x":{"field":"x1","type":"quantitative","scale":{"domain":[-0.625,403.125],"nice":false,"zero":false},"axis":null},"x2":{"field":"x2"},"y":{"field":"y1","type":"quantitative","scale":{"domain":[4032.38,4136.6],"nice":false,"zero":false},"axis":null},"y2":{"field":"y2"}}},
{"data":{"values":[{"x1":0.875,"x2":9.875,"y":4135.66},{"x1":36.625,"x2":45.625,"y":4135.66}]},"mark":{"type":"rule","color":"#6a6af0","strokeWidth":1},"encoding":{"x":{"field":"x1","type":"quantitative","scale":{"domain":[-0.625,403.125],"nice":false,"zero":false},"axis":null},"x2":{"field":"x2"},"y":{"field":"y","type":"quantitative","scale":{"domain":[4032.38,4136.6],"nice":false,"zero":false},"axis":null}}},
{"data":{"values":[{"x":3.6,"y":4131.13,"t":"4052"},{"x":27.1,"y":4131.13,"t":"4053"}]},"mark":{"type":"text","font":"Noto Sans","fontSize":11,"align":"left","baseline":"alphabetic","color":"#e8e8ff"},"encoding":{"x":{"field":"x","type":"quantitative","scale":{"domain":[-0.625,403.125],"nice":false,"zero":false},"axis":null},"y":{"field":"y","type":"quantitative","scale":{"domain":[4032.38,4136.6],"nice":false,"zero":false},"axis":null},"text":{"field":"t"}}},
{"data":{"values":[{"x":11.6,"y":4131.13,"t":"56"},{"x":35.1,"y":4131.13,"t":"05"}]},"mark":{"type":"text","font":"Open Sans","fontSize":30,"align":"left","baseline":"alphabetic","color":"#ffffff"},"encoding":{"x":{"field":"x","type":"quantitative","scale":{"domain":[-0.625,403.125],"nice":false,"zero":false},"axis":null},"y":{"field":"y","type":"quantitative","scale":{"domain":[4032.38,4136.6],"nice":false,"zero":false},"axis":null},"text":{"field":"t"}}},
{"data":{"values":[{"x1":-0.5,"x2":6.375,"btn":"MID"},{"x1":6.625,"x2":11.5,"btn":"J"},{"x1":11.75,"x2":16.5,"btn":"N"}]},"mark":{"type":"rect","stroke":"#808080","strokeWidth":2},"encoding":{"x":{"field":"x1","type":"quantitative","scale":{"domain":[-0.625,403.125],"nice":false,"zero":false},"axis":null},"x2":{"field":"x2"},"y":{"datum":4118.3,"type":"quantitative","scale":{"domain":[4032.38,4136.6],"nice":false,"zero":false},"axis":null},"y2":{"datum":4115.2},"fill":{"field":"btn","type":"nominal","legend":null,"scale":{"domain":["MID","J","N"],"range":["#555555","#b8860b","#f0f0f0"]}}}},
{"data":{"values":[{"x":2.9,"y":4116.76,"t":"MID"},{"x":9.1,"y":4116.76,"t":"J"}]},"mark":{"type":"text","font":"Liberation Sans","fontSize":14,"align":"center","baseline":"middle","color":"#f0f0f0"},"encoding":{"x":{"field":"x","type":"quantitative","scale":{"domain":[-0.625,403.125],"nice":false,"zero":false},"axis":null},"y":{"field":"y","type":"quantitative","scale":{"domain":[4032.38,4136.6],"nice":false,"zero":false},"axis":null},"text":{"field":"t"}}},
{"data":{"values":[{"x":14.1,"y":4116.76,"t":"N"}]},"mark":{"type":"text","font":"Liberation Sans","fontSize":14,"align":"center","baseline":"middle","color":"#101030"},"encoding":{"x":{"field":"x","type":"quantitative","scale":{"domain":[-0.625,403.125],"nice":false,"zero":false},"axis":null},"y":{"field":"y","type":"quantitative","scale":{"domain":[4032.38,4136.6],"nice":false,"zero":false},"axis":null},"text":{"field":"t"}}},
{"data":{"values":[{"x1":363.375,"x2":402.375,"y1":4136.6,"y2":4133.16}]},"mark":{"type":"rect","color":"#98fb98"},"encoding":{"x":{"field":"x1","type":"quantitative","scale":{"domain":[-0.625,403.125],"nice":false,"zero":false},"axis":null},"x2":{"field":"x2"},"y":{"field":"y1","type":"quantitative","scale":{"domain":[4032.38,4136.6],"nice":false,"zero":false},"axis":null},"y2":{"field":"y2"}}},
{"data":{"values":[{"x1":363.375,"x2":402.375,"y1":4132.85,"y2":4129.26}]},"mark":{"type":"rect","color":"#ffc0cb"},"encoding":{"x":{"field":"x1","type":"quantitative","scale":{"domain":[-0.625,403.125],"nice":false,"zero":false},"axis":null},"x2":{"field":"x2"},"y":{"field":"y1","type":"quantitative","scale":{"domain":[4032.38,4136.6],"nice":false,"zero":false},"axis":null},"y2":{"field":"y2"}}},
{"data":{"values":[{"x":382.9,"y":4134.88,"t":"GOLD , M5"}]},"mark":{"type":"text","font":"Liberation Sans","fontSize":20,"align":"center","baseline":"middle","color":"#000000"},"encoding":{"x":{"field":"x","type":"quantitative","scale":{"domain":[-0.625,403.125],"nice":false,"zero":false},"axis":null},"y":{"field":"y","type":"quantitative","scale":{"domain":[4032.38,4136.6],"nice":false,"zero":false},"axis":null},"text":{"field":"t"}}},
{"data":{"values":[{"x":382.9,"y":4130.98,"t":"Total  444.5pips"}]},"mark":{"type":"text","font":"Liberation Sans","fontSize":16,"align":"center","baseline":"middle","color":"#0000ff"},"encoding":{"x":{"field":"x","type":"quantitative","scale":{"domain":[-0.625,403.125],"nice":false,"zero":false},"axis":null},"y":{"field":"y","type":"quantitative","scale":{"domain":[4032.38,4136.6],"nice":false,"zero":false},"axis":null},"text":{"field":"t"}}},
{"data":{"values":[{"x1":403.875,"x2":413.625,"y1":4053.32,"y2":4051.76}]},"mark":{"type":"rect","color":"#778899"},"encoding":{"x":{"field":"x1","type":"quantitative","scale":{"domain":[-0.625,403.125],"nice":false,"zero":false},"axis":null},"x2":{"field":"x2"},"y":{"field":"y1","type":"quantitative","scale":{"domain":[4032.38,4136.6],"nice":false,"zero":false},"axis":null},"y2":{"field":"y2"}}},
{"data":{"values":[{"x":404.2,"y":4052.56,"t":"4052.56"}]},"mark":{"type":"text","font":"DejaVu Sans","fontSize":8,"align":"left","baseline":"middle","color":"#000000"},"encoding":{"x":{"field":"x","type":"quantitative","scale":{"domain":[-0.625,403.125],"nice":false,"zero":false},"axis":null},"y":{"field":"y","type":"quantitative","scale":{"domain":[4032.38,4136.6],"nice":false,"zero":false},"axis":null},"text":{"field":"t"}}}
]}
